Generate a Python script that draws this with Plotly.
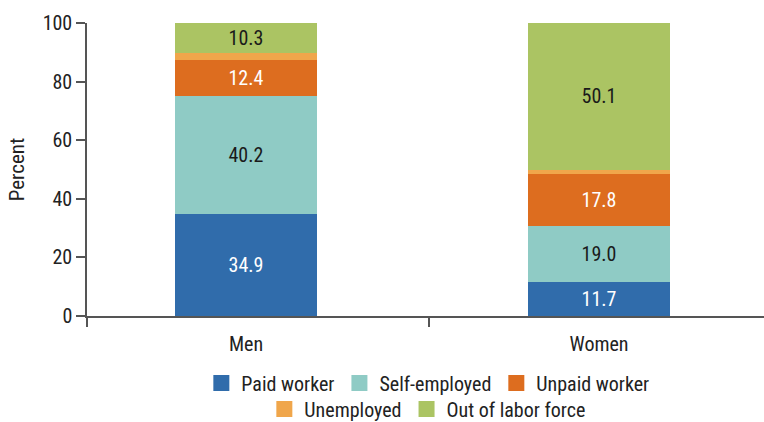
import plotly.graph_objects as go

# Labor force status by sex (percent)
groups = ["Men", "Women"]
categories = ["Paid worker", "Self-employed", "Unpaid worker", "Unemployed", "Out of labor force"]
paid_worker = [34.9, 11.7]
self_employed = [40.2, 19.0]
unpaid_worker = [12.4, 17.8]
unemployed = [2.2, 1.4]
out_of_labor_force = [10.3, 50.1]
y_ticks = [0, 20, 40, 60, 80, 100]

series = [paid_worker, self_employed, unpaid_worker, unemployed, out_of_labor_force]
colors = ["#306CAB", "#8FCBC5", "#DD6D1F", "#F0A64B", "#ABC463"]
label_colors = ["white", "#1a1a1a", "white", None, "#1a1a1a"]
legend_rows = ["legend", "legend", "legend", "legend2", "legend2"]

FONT = "Roboto Condensed, Roboto, sans-serif"
x_pos = list(range(len(groups)))

fig = go.Figure()
for name, vals, col, lcol, leg in zip(categories, series, colors, label_colors, legend_rows):
    fig.add_trace(go.Bar(
        x=x_pos, y=vals, name=name, marker=dict(color=col, line=dict(width=0)),
        width=0.402, showlegend=False, hoverinfo="skip",
        text=[f"{v:.1f}" for v in vals] if lcol else None,
        textposition="inside" if lcol else "none",
        insidetextanchor="middle", textangle=0, constraintext="none",
        textfont=dict(family=FONT, size=20, color=lcol or "black"),
    ))
    # square legend swatch
    fig.add_trace(go.Scatter(
        x=[None], y=[None], mode="markers", name=name, legend=leg,
        marker=dict(symbol="square", size=16, color=col),
    ))

legend_style = dict(
    orientation="h", xref="container", yref="container", x=0.56, xanchor="center",
    yanchor="middle", traceorder="normal",
    font=dict(family=FONT, size=20, color="#222222"),
    bgcolor="rgba(0,0,0,0)", itemclick=False, itemdoubleclick=False,
)

fig.update_layout(
    barmode="stack",
    width=764, height=422,
    margin=dict(l=87, r=0, t=23, b=106),
    plot_bgcolor="white", paper_bgcolor="white",
    font=dict(family=FONT, size=19, color="#222222"),
    legend=dict(**legend_style, y=1 - 383 / 422),
    legend2=dict(**legend_style, y=1 - 409 / 422),
    xaxis=dict(
        range=[-0.4504, 1.4674], tickvals=x_pos, ticktext=groups, ticks="",
        showline=True, linecolor="#555555", linewidth=2, showgrid=False,
        zeroline=False, tickfont=dict(family=FONT, size=20, color="#222222"),
        ticklabelstandoff=9,
        minor=dict(tickmode="array", tickvals=[-0.4504, 0.5184], ticks="outside",
                   ticklen=9, tickwidth=2, tickcolor="#555555", showgrid=False),
    ),
    yaxis=dict(
        range=[0, 100], tickvals=y_ticks, ticks="outside", ticklen=9,
        tickwidth=1.5, tickcolor="#555555", showline=True, linecolor="#555555",
        linewidth=1.5, showgrid=False, zeroline=False,
        tickfont=dict(family=FONT, size=20, color="#222222"),
        title=dict(text="Percent", font=dict(family=FONT, size=21, color="#222222"),
                   standoff=12),
    ),
)

fig.write_html("out.html")
